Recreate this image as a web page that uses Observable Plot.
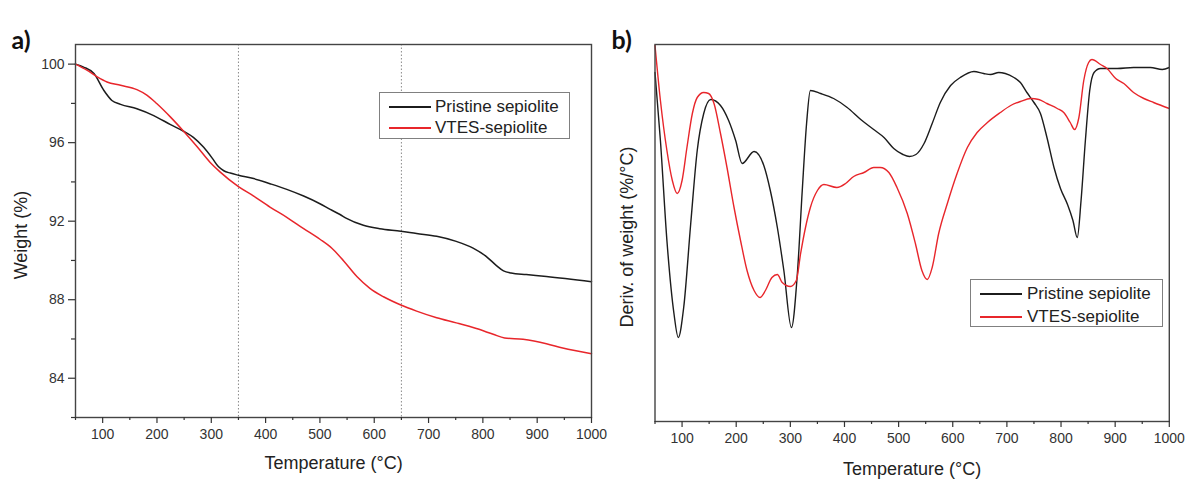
<!DOCTYPE html>
<html><head><meta charset="utf-8">
<script src="https://cdn.jsdelivr.net/npm/d3@7"></script>
<script src="https://cdn.jsdelivr.net/npm/@observablehq/plot@0.6"></script>
<style>
body{margin:0;background:#fff;font-family:"Liberation Sans",Arial,sans-serif}
#wrap{position:relative;width:1189px;height:480px;overflow:hidden}
#pa{position:absolute;left:0;top:0}
#pb{position:absolute;left:600px;top:0}
.legend{position:absolute;border:1px solid #808080;background:#fff;font-size:17px;color:#222;box-sizing:border-box}
.legend .ln{position:absolute;height:1.6px}
.legend .tx{position:absolute;line-height:20px;white-space:nowrap}
</style></head>
<body><div id="wrap"><div id="pa"></div><div id="pb"></div></div>
<script>
// ---- data (temperature °C, value) ----
const seriesNames = ["Pristine sepiolite", "VTES-sepiolite"];
const seriesColors = ["#1c1c1c", "#e8262b"];
const xTicks = [100,200,300,400,500,600,700,800,900,1000];
const xMinorTicks = [50,150,250,350,450,550,650,750,850,950];
const yTicksA = [84,88,92,96,100];
const yMinorTicksA = [82,86,90,94,98];
const markerTemps = [350, 650];

// a) weight (%)
const pristineTGA = [[50,100],[65,99.85],[84,99.52],[102,98.67],[117,98.15],[133,97.95],[163,97.73],[194,97.38],[225,96.92],[249,96.58],[267,96.27],[286,95.76],[302,95.2],[313,94.78],[323,94.57],[335,94.45],[350,94.34],[378,94.17],[408,93.91],[439,93.62],[470,93.28],[500,92.89],[519,92.6],[537,92.34],[549,92.14],[580,91.79],[610,91.62],[649,91.49],[678,91.37],[715,91.23],[751,90.97],[782,90.63],[806,90.21],[825,89.74],[838,89.47],[852,89.36],[880,89.28],[917,89.18],[1000,88.92]];
const vtesTGA = [[50,100],[71,99.69],[90,99.35],[108,99.09],[133,98.92],[163,98.7],[182,98.41],[200,97.98],[225,97.3],[249,96.58],[274,95.79],[298,94.99],[316,94.51],[350,93.76],[378,93.28],[408,92.72],[439,92.2],[470,91.62],[500,91.08],[522,90.62],[543,90.0],[568,89.18],[592,88.58],[617,88.15],[649,87.73],[678,87.42],[715,87.08],[751,86.82],[788,86.53],[819,86.24],[840,86.05],[874,85.98],[917,85.76],[947,85.54],[1000,85.25]];

// b) derivative of weight (%/°C, relative)
const pristineDTG = [[50,-0.028],[60,-0.096],[72,-0.196],[85,-0.269],[93,-0.293],[103,-0.263],[116,-0.179],[128,-0.106],[140,-0.069],[153,-0.055],[171,-0.061],[186,-0.076],[199,-0.096],[211,-0.119],[233,-0.107],[251,-0.121],[263,-0.146],[276,-0.183],[288,-0.226],[302,-0.283],[313,-0.229],[322,-0.146],[330,-0.079],[337,-0.046],[356,-0.049],[380,-0.054],[405,-0.063],[430,-0.075],[454,-0.085],[473,-0.093],[491,-0.104],[508,-0.11],[520,-0.112],[532,-0.11],[547,-0.099],[562,-0.079],[577,-0.058],[596,-0.041],[614,-0.033],[639,-0.027],[657,-0.029],[670,-0.03],[685,-0.028],[697,-0.029],[713,-0.033],[725,-0.038],[737,-0.048],[750,-0.058],[762,-0.069],[774,-0.093],[787,-0.123],[799,-0.144],[812,-0.16],[822,-0.176],[830,-0.193],[837,-0.156],[845,-0.096],[853,-0.046],[861,-0.028],[873,-0.024],[904,-0.024],[934,-0.023],[965,-0.023],[987,-0.025],[1000,-0.023]];
const vtesDTG = [[50,-0.001],[60,-0.056],[72,-0.106],[82,-0.136],[91,-0.149],[100,-0.136],[109,-0.103],[119,-0.069],[128,-0.053],[140,-0.048],[149,-0.049],[159,-0.059],[171,-0.089],[183,-0.123],[196,-0.163],[208,-0.196],[220,-0.226],[233,-0.246],[244,-0.253],[254,-0.246],[266,-0.233],[276,-0.23],[285,-0.238],[300,-0.242],[311,-0.236],[319,-0.209],[328,-0.183],[337,-0.163],[350,-0.146],[362,-0.14],[386,-0.143],[402,-0.139],[417,-0.132],[436,-0.128],[454,-0.123],[466,-0.123],[482,-0.128],[497,-0.143],[516,-0.169],[531,-0.199],[543,-0.226],[553,-0.235],[562,-0.223],[574,-0.189],[590,-0.159],[608,-0.129],[627,-0.103],[645,-0.088],[664,-0.078],[688,-0.068],[707,-0.061],[725,-0.057],[744,-0.054],[759,-0.055],[774,-0.059],[793,-0.064],[805,-0.068],[817,-0.078],[825,-0.085],[833,-0.073],[842,-0.036],[851,-0.018],[857,-0.015],[873,-0.02],[885,-0.024],[901,-0.034],[916,-0.039],[934,-0.048],[953,-0.054],[971,-0.058],[1000,-0.064]];

// ---- build ----
const toRows = (arr, s) => arr.map(([t, v]) => ({t, v, s}));
const tgaRows = [...toRows(pristineTGA, seriesNames[0]), ...toRows(vtesTGA, seriesNames[1])];
const dtgRows = [...toRows(pristineDTG, seriesNames[0]), ...toRows(vtesDTG, seriesNames[1])];
const color = {domain: seriesNames, range: seriesColors};
const style = {fontFamily: "'Liberation Sans', Arial, sans-serif", fontSize: "14px", color: "#333", background: "transparent", overflow: "visible"};
const titleFont = {fontSize: 18, fill: "#222", fontFamily: "'Liberation Sans', Arial, sans-serif", textAnchor: "middle"};
const panelFont = {fontSize: 25, fontWeight: "bold", fill: "#111", fontFamily: "Lato, 'Open Sans', sans-serif", textAnchor: "start"};
const fmt = d => String(d);

const xAxes = [
  Plot.axisX(xTicks, {tickSize: 6, tickPadding: 6, tickFormat: fmt, label: null, stroke: "#333", strokeWidth: 1.2}),
  Plot.axisX(xMinorTicks, {tickSize: 3, tickFormat: () => "", label: null, stroke: "#333", strokeWidth: 1.2})
];

const plotA = Plot.plot({
  width: 600, height: 480,
  marginLeft: 75, marginRight: 9, marginTop: 44, marginBottom: 63,
  style,
  x: {domain: [50, 1000]},
  y: {domain: [82, 101]},
  color,
  marks: [
    Plot.ruleX(markerTemps, {stroke: "#8a8a8a", strokeDasharray: "1.5,2", strokeWidth: 1}),
    Plot.line(tgaRows, {x: "t", y: "v", z: "s", stroke: "s", strokeWidth: 1.5, curve: "monotone-x"}),
    Plot.frame({stroke: "#444", strokeWidth: 1.4}),
    ...xAxes,
    Plot.axisY(yTicksA, {tickSize: 7, tickPadding: 4, tickFormat: fmt, label: null, stroke: "#333", strokeWidth: 1.2}),
    Plot.axisY(yMinorTicksA, {tickSize: 4, tickFormat: () => "", label: null, stroke: "#333", strokeWidth: 1.2}),
    Plot.text(["Temperature (°C)"], {frameAnchor: "bottom", dy: 51, ...titleFont}),
    Plot.text(["Weight (%)"], {frameAnchor: "left", dx: -54, dy: 4, rotate: -90, ...titleFont}),
    Plot.text(["a)"], {frameAnchor: "top-left", dx: -64, dy: -13, ...panelFont})
  ]
});

const plotB = Plot.plot({
  width: 589, height: 480,
  marginLeft: 54.5, marginRight: 20.2, marginTop: 44, marginBottom: 59,
  style,
  x: {domain: [50, 1000]},
  y: {domain: [-0.377, 0], axis: null},
  color,
  marks: [
    Plot.line(dtgRows, {x: "t", y: "v", z: "s", stroke: "s", strokeWidth: 1.4, curve: "monotone-x"}),
    Plot.frame({stroke: "#444", strokeWidth: 1.4}),
    ...xAxes,
    Plot.text(["Temperature (°C)"], {frameAnchor: "bottom", dy: 53, ...titleFont}),
    Plot.text(["Deriv. of weight (%/°C)"], {frameAnchor: "left", dx: -28, dy: 4, rotate: -90, ...titleFont}),
    Plot.text(["b)"], {frameAnchor: "top-left", dx: -43.5, dy: -13, ...panelFont})
  ]
});

document.getElementById("pa").appendChild(plotA);
document.getElementById("pb").appendChild(plotB);

// legends (HTML overlays)
function legend(left, top, w, h, rowYs, lineX, lineW, textX) {
  const d = document.createElement("div");
  d.className = "legend";
  Object.assign(d.style, {left: left + "px", top: top + "px", width: w + "px", height: h + "px"});
  seriesNames.forEach((name, i) => {
    const ln = document.createElement("div");
    ln.className = "ln";
    Object.assign(ln.style, {left: lineX + "px", top: (rowYs[i] - 1) + "px", width: lineW + "px", background: seriesColors[i]});
    const tx = document.createElement("div");
    tx.className = "tx";
    tx.textContent = name;
    Object.assign(tx.style, {left: textX + "px", top: (rowYs[i] - 10) + "px"});
    d.appendChild(ln); d.appendChild(tx);
  });
  document.getElementById("wrap").appendChild(d);
}
legend(379, 92, 191, 47, [14, 35], 9, 42, 55);
legend(970, 279, 193, 48, [14, 37], 9, 42, 56);
</script>
</body></html>
